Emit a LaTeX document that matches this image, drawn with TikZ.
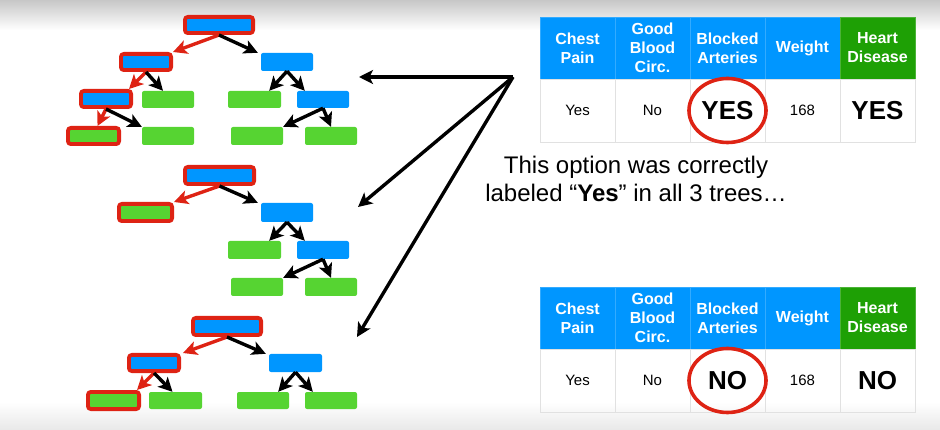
\documentclass[tikz,border=0pt]{standalone}
\usepackage{fontspec}
\setmainfont{Liberation Sans}
\usetikzlibrary{arrows.meta,shapes.geometric}
\definecolor{azzurro}{RGB}{0,150,255}
\definecolor{verde}{RGB}{86,212,50}
\definecolor{verdescuro}{RGB}{30,160,5}
\definecolor{rosso}{RGB}{222,35,20}
\definecolor{bordo}{RGB}{225,225,225}
\begin{document}
\begin{tikzpicture}[x=1pt,y=-1pt,>={Stealth[length=14pt,width=14pt,inset=3.5pt]},
    split/.style={fill=azzurro,rounded corners=2pt,inner sep=0pt,minimum width=52pt,minimum height=18pt},
    leaf/.style={split,fill=verde},
    picked/.style={draw=rosso,line width=3.8pt,rounded corners=3pt},
    edge/.style={->,line width=3.4pt},
    redge/.style={edge,rosso},
    head/.style={fill=azzurro,draw=azzurro!80!white,line width=0.8pt,minimum width=75pt,minimum height=62pt,
        inner sep=0pt,text=white,align=center,font=\bfseries\fontsize{16}{19}\selectfont},
    cell/.style={draw=bordo,line width=0.8pt,minimum width=75pt,minimum height=63pt,inner sep=0pt,
        font=\fontsize{15}{18}\selectfont},
    ring/.style={draw=rosso,line width=3.6pt,ellipse,minimum width=77pt,minimum height=64pt,inner sep=0pt}]
    \useasboundingbox (0,0) rectangle (940,430);
    % sfondo: ombre in alto e in basso
    \shade[top color=black!22,bottom color=white] (0,0) rectangle (940,30);
    \shade[top color=white,bottom color=black!9] (0,402) rectangle (940,430);

    % primo albero
    \node[split,picked,minimum width=68.2pt,minimum height=16.2pt] (t1r) at (219,25) {};
    \node[split,picked,minimum width=50.2pt,minimum height=16.2pt] (t1a) at (146,62) {};
    \node[split] (t1b) at (287,62) {};
    \node[split,picked,minimum width=50.2pt,minimum height=16.2pt] (t1c) at (106,99) {};
    \node[leaf,minimum height=17pt] (t1d) at (168,99.5) {};
    \node[leaf,minimum height=17pt,minimum width=53pt] (t1e) at (254.5,99.5) {};
    \node[split,minimum height=17pt] (t1f) at (323,99.5) {};
    \node[leaf,picked,minimum width=51.2pt,minimum height=16.2pt] (t1g) at (93.5,136) {};
    \node[leaf] (t1h) at (168,136) {};
    \node[leaf] (t1i) at (257,136) {};
    \node[leaf] (t1j) at (331,136) {};
    \draw[redge] (t1r.south) -- (t1a.north east);
    \draw[edge] (t1r.south) -- ([xshift=-3pt]t1b.north west);
    \draw[redge] (t1a.south) -- ([xshift=-4pt]t1c.north east);
    \draw[edge] (t1a.south) -- ([xshift=-5pt]t1d.north);
    \draw[edge] (t1b.south) -- ([xshift=-12pt]t1e.north east);
    \draw[edge] (t1b.south) -- ([xshift=8pt]t1f.north west);
    \draw[redge] (t1c.south) -- ([xshift=4pt]t1g.north);
    \draw[edge] (t1c.south) -- (t1h.north west);
    \draw[edge] (t1f.south) -- (t1i.north east);
    \draw[edge] (t1f.south) -- (t1j.north);

    % secondo albero
    \node[split,picked,minimum width=69.2pt,minimum height=17.2pt] (t2r) at (219.5,175.5) {};
    \node[leaf,picked,minimum width=53.2pt,minimum height=17.2pt] (t2a) at (145.5,212.5) {};
    \node[split,minimum height=19pt] (t2b) at (287,212.5) {};
    \node[leaf,minimum width=53pt] (t2c) at (254.5,250) {};
    \node[split] (t2d) at (323,250) {};
    \node[leaf] (t2e) at (257,287) {};
    \node[leaf] (t2f) at (331,287) {};
    \draw[redge] (t2r.south) -- (t2a.north east);
    \draw[edge] (t2r.south) -- ([xshift=-3pt]t2b.north west);
    \draw[edge] (t2b.south) -- ([xshift=-12pt]t2c.north east);
    \draw[edge] (t2b.south) -- ([xshift=8pt]t2d.north west);
    \draw[edge] (t2d.south) -- (t2e.north east);
    \draw[edge] (t2d.south) -- (t2f.north);

    % terzo albero
    \node[split,picked,minimum width=68.2pt,minimum height=17.2pt] (t3r) at (227,326.5) {};
    \node[split,picked,minimum width=50.2pt,minimum height=16.2pt] (t3a) at (154,363) {};
    \node[split,minimum width=53pt] (t3b) at (295.5,363) {};
    \node[leaf,picked,minimum width=51.2pt,minimum height=17.2pt] (t3c) at (113.5,400.5) {};
    \node[leaf,minimum width=53pt,minimum height=17pt] (t3d) at (175.5,400.5) {};
    \node[leaf,minimum height=17pt] (t3e) at (263,400.5) {};
    \node[leaf,minimum height=17pt] (t3f) at (331,400.5) {};
    \draw[redge] (t3r.south) -- ([xshift=2pt]t3a.north east);
    \draw[edge] (t3r.south) -- ([xshift=-3pt]t3b.north west);
    \draw[redge] (t3a.south) -- ([xshift=-4pt]t3c.north east);
    \draw[edge] (t3a.south) -- ([xshift=-3pt]t3d.north);
    \draw[edge] (t3b.south) -- ([xshift=-11pt]t3e.north east);
    \draw[edge] (t3b.south) -- ([xshift=8pt]t3f.north west);

    % frecce verso gli alberi
    \coordinate (src) at (513,77);
    \coordinate (p1) at (359,77);
    \coordinate (p2) at (358,207);
    \coordinate (p3) at (357,337);
    \foreach \p in {p1,p2,p3}
        \draw[edge] (src) -- (\p);

    % tabelle
    \foreach \ty/\tab/\ans in {17/ya/YES,287/na/NO} {
        \begin{scope}[shift={(540,\ty)}]
            \foreach \i/\txt in {0/{Chest\\Pain},1/{Good\\Blood\\Circ.},2/{Blocked\\Arteries},3/{Weight}}
                \node[head] (\tab h\i) at (75*\i+37.5,31) {\txt};
            \node[head,fill=verdescuro,draw=verdescuro!80!white] (\tab h4) at (337.5,31) {Heart\\Disease};
            \node[cell] (\tab b0) at (37.5,93.5) {Yes};
            \node[cell] (\tab b1) at (112.5,93.5) {No};
            \node[cell,font=\bfseries\fontsize{26}{30}\selectfont] (\tab b2) at (187.5,93.5) {\ans};
            \node[cell] (\tab b3) at (262.5,93.5) {168};
            \node[cell,font=\bfseries\fontsize{26}{30}\selectfont] (\tab b4) at (337.5,93.5) {\ans};
            \node[ring] (\tab c) at (\tab b2) {};
        \end{scope}
    }

    \node[font=\fontsize{24}{28}\selectfont,align=center] (note) at (636,179)
        {This option was correctly\\labeled “\textbf{Yes}” in all 3 trees…};
\end{tikzpicture}
\end{document}
